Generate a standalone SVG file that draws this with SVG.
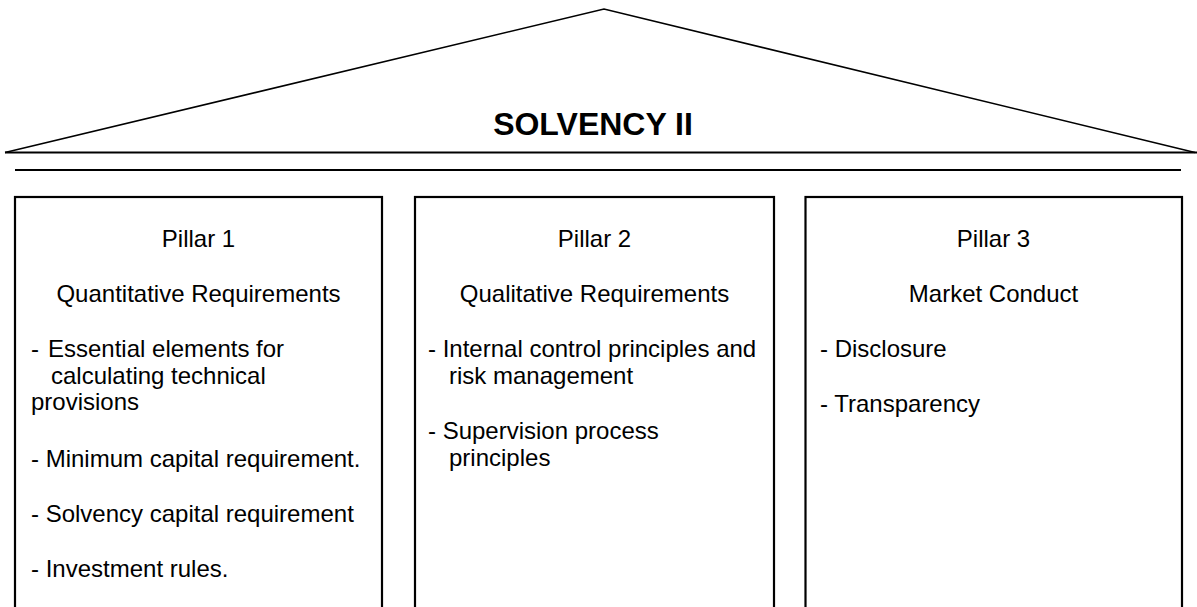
<svg xmlns="http://www.w3.org/2000/svg" width="1197" height="607" viewBox="0 0 1197 607">
<style>
.bg{fill:#fff}
.roof{fill:none;stroke:#000;stroke-width:1.6;stroke-linejoin:miter}
.rule{stroke:#000;stroke-width:2.2}
.box{fill:#fff;stroke:#000;stroke-width:2.2}
.t{font-family:"Liberation Sans",Arial,sans-serif;font-size:24px;fill:#000}
.c{text-anchor:middle}
.title{font-family:"Liberation Sans",Arial,sans-serif;font-size:32px;font-weight:bold;fill:#000;text-anchor:middle}
</style>
<rect class="bg" x="0" y="0" width="1197" height="607"/>
<g id="roof">
<polyline class="roof" points="5,152.5 604,9 1195,152.5"/>
<line class="rule" x1="5" y1="152.5" x2="1197" y2="152.5"/>
<text class="title" x="593" y="135">SOLVENCY II</text>
</g>
<g id="beam">
<line class="rule" x1="15" y1="170" x2="1181" y2="170"/>
</g>
<g id="pillar1">
<rect class="box" x="15" y="197" width="367" height="420"/>
<text class="t c" x="198.5" y="247">Pillar 1</text>
<text class="t c" x="198.5" y="302">Quantitative Requirements</text>
<text class="t" x="31" y="357">-<tspan x="48">Essential elements for</tspan></text>
<text class="t" x="51" y="384">calculating technical</text>
<text class="t" x="31" y="410">provisions</text>
<text class="t" x="31" y="467">- Minimum capital requirement.</text>
<text class="t" x="31" y="522">- Solvency capital requirement</text>
<text class="t" x="31" y="577">- Investment rules.</text>
</g>
<g id="pillar2">
<rect class="box" x="415" y="197" width="359" height="420"/>
<text class="t c" x="594.5" y="247">Pillar 2</text>
<text class="t c" x="594.5" y="302">Qualitative Requirements</text>
<text class="t" x="428" y="357">- Internal control principles and</text>
<text class="t" x="449" y="384">risk management</text>
<text class="t" x="428" y="439">- Supervision process</text>
<text class="t" x="449" y="466">principles</text>
</g>
<g id="pillar3">
<rect class="box" x="805.5" y="197" width="376.5" height="420"/>
<text class="t c" x="993.5" y="247">Pillar 3</text>
<text class="t c" x="993.5" y="302">Market Conduct</text>
<text class="t" x="820" y="357">- Disclosure</text>
<text class="t" x="820" y="412">- Transparency</text>
</g>
<g id="connectors"/>
</svg>
